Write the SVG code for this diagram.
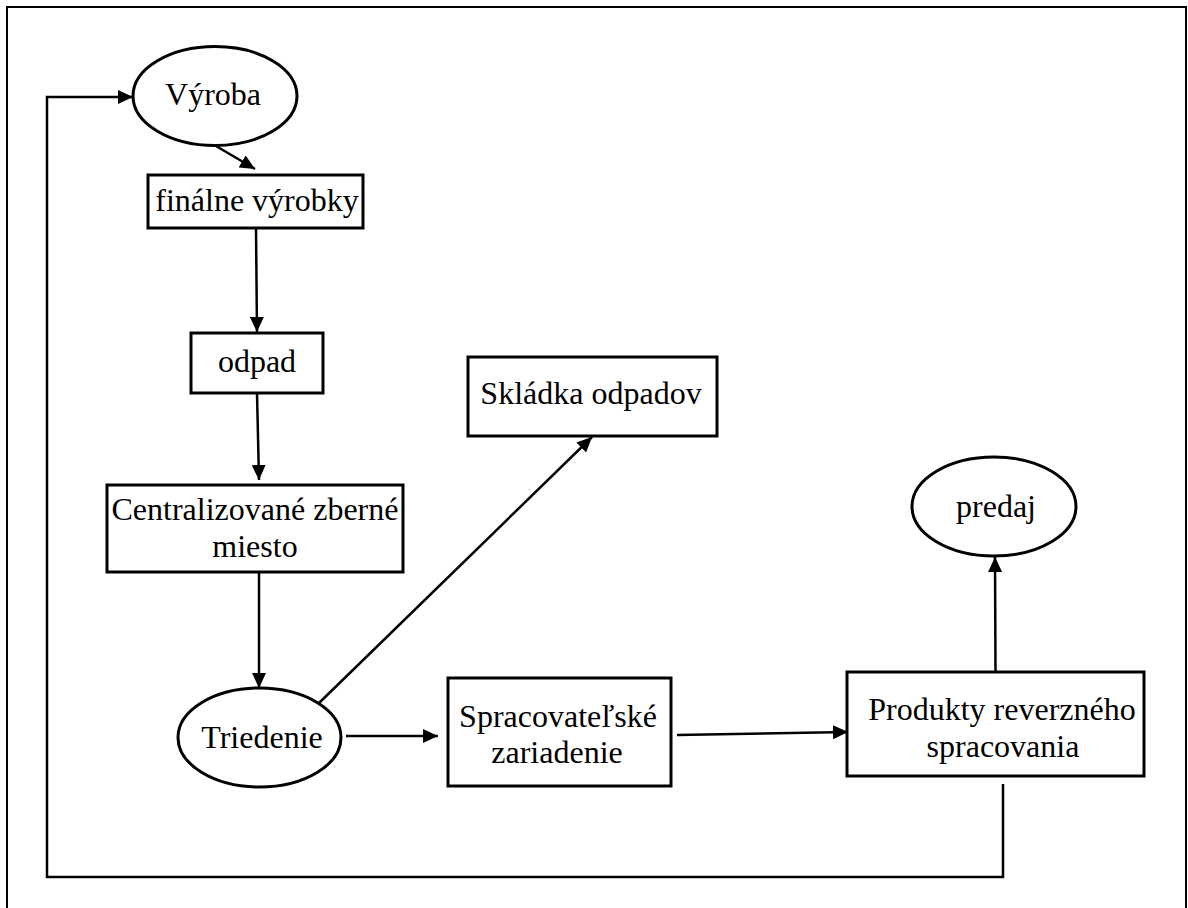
<svg xmlns="http://www.w3.org/2000/svg" width="1188" height="908" viewBox="0 0 1188 908">
<defs>
<marker id="arr" markerUnits="userSpaceOnUse" markerWidth="15" markerHeight="14" refX="15" refY="7" orient="auto">
<path d="M0,0 L15,7 L0,14 z" fill="#000"/>
</marker>
<style>
.n{fill:#fff;stroke:#000;stroke-width:3}
.t{font-family:"Liberation Serif","Times New Roman",serif;font-size:32px;fill:#000;text-anchor:middle}
.c{fill:none;stroke:#000;stroke-width:2.5}
</style>
</defs>
<rect x="7" y="7" width="1179" height="910" fill="#fff" stroke="#000" stroke-width="2"/>
<g id="connectors">
<line class="c" x1="216" y1="146" x2="255" y2="169" marker-end="url(#arr)"/>
<line class="c" x1="256" y1="228" x2="257" y2="332" marker-end="url(#arr)"/>
<line class="c" x1="257" y1="393" x2="259" y2="480" marker-end="url(#arr)"/>
<line class="c" x1="259" y1="572" x2="259" y2="688" marker-end="url(#arr)"/>
<line class="c" x1="319" y1="703" x2="592" y2="437" marker-end="url(#arr)"/>
<line class="c" x1="346" y1="736" x2="438" y2="736" marker-end="url(#arr)"/>
<line class="c" x1="677" y1="735" x2="848" y2="732" marker-end="url(#arr)"/>
<line class="c" x1="995.5" y1="672" x2="995" y2="557" marker-end="url(#arr)"/>
<polyline class="c" points="1003,784 1003,877 47,877 47,97 133,97" marker-end="url(#arr)"/>
</g>
<g id="vyroba">
<ellipse class="n" cx="215" cy="96" rx="82" ry="49.5"/>
<text class="t" x="213" y="105">Výroba</text>
</g>
<g id="finalne">
<rect class="n" x="148" y="175" width="215" height="53"/>
<text class="t" x="257" y="211">finálne výrobky</text>
</g>
<g id="odpad">
<rect class="n" x="191" y="333" width="132" height="60"/>
<text class="t" x="257" y="372">odpad</text>
</g>
<g id="centralizovane">
<rect class="n" x="107" y="485" width="296" height="87"/>
<text class="t" x="255" y="520">Centralizované zberné</text>
<text class="t" x="255" y="557">miesto</text>
</g>
<g id="triedenie">
<ellipse class="n" cx="259.5" cy="737.5" rx="81.5" ry="49.5"/>
<text class="t" x="262" y="748">Triedenie</text>
</g>
<g id="skladka">
<rect class="n" x="468" y="357" width="249" height="79"/>
<text class="t" x="591" y="404">Skládka odpadov</text>
</g>
<g id="spracovatelske">
<rect class="n" x="448" y="678" width="223" height="108"/>
<text class="t" x="558" y="727">Spracovateľské</text>
<text class="t" x="557" y="763">zariadenie</text>
</g>
<g id="produkty">
<rect class="n" x="847" y="672" width="297" height="104"/>
<text class="t" x="1002" y="720">Produkty reverzného</text>
<text class="t" x="1003" y="757">spracovania</text>
</g>
<g id="predaj">
<ellipse class="n" cx="994" cy="506.5" rx="82" ry="49.5"/>
<text class="t" x="996" y="517">predaj</text>
</g>
</svg>
